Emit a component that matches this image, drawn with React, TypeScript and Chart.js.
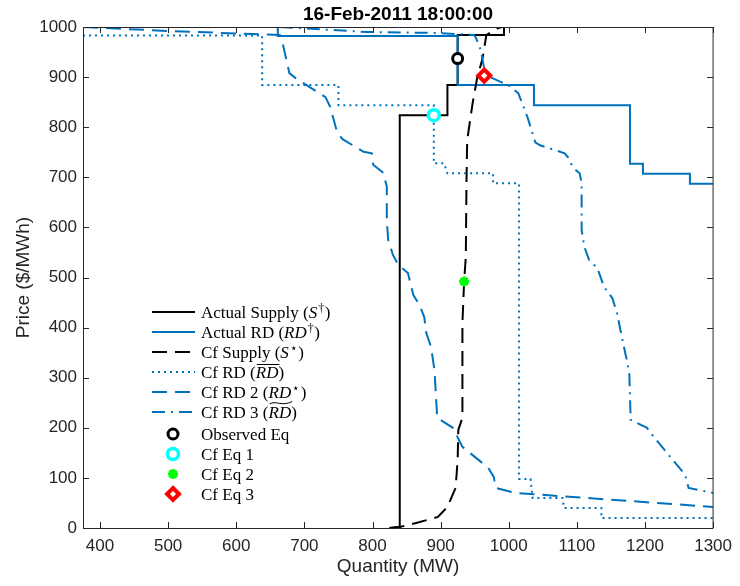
import React, { useEffect, useRef } from "react";
import { Chart, registerables } from "chart.js";

Chart.register(...registerables);

const TITLE = "16-Feb-2011 18:00:00";
const X_LABEL = "Quantity (MW)";
const Y_LABEL = "Price ($/MWh)";

const xTicks = [400, 500, 600, 700, 800, 900, 1000, 1100, 1200, 1300];
const yTicks = [0, 100, 200, 300, 400, 500, 600, 700, 800, 900, 1000];

// Actual Supply (S†)
const supplyQ = [825, 840, 840, 910, 910, 925, 925, 993, 993];
const supplyP = [0, 2, 824, 824, 884, 884, 984, 984, 1000];

// Actual RD (RD†)
const rdQ = [661, 661, 925, 925, 1037, 1037, 1178, 1178, 1197, 1197, 1266, 1266, 1300];
const rdP = [1000, 982, 982, 884, 884, 844, 844, 727, 727, 707, 707, 687, 687];

// Cf Supply (S*)
const cfSupplyQ = [825, 840, 864, 896, 910, 922, 925, 926, 932, 932, 932, 934.5, 937, 938, 939, 947, 954, 961, 966, 967, 985, 990];
const cfSupplyP = [0, 2, 10, 22, 42, 80, 136, 196, 220, 295, 409, 492, 541, 695, 774, 848, 901, 934, 974, 984, 998, 1000];

// Cf RD (overline RD)
const cfRdQ = [375, 638, 638, 750, 750, 890, 890, 905, 910, 977, 977, 1015, 1015, 1032, 1035, 1079, 1081, 1136, 1136, 1300];
const cfRdP = [983, 983, 884, 884, 844, 844, 728, 728, 708, 708, 688, 688, 98, 98, 60, 60, 40, 40, 20, 20];

// Cf RD 2 (RD*)
const cfRd2Q = [375, 502, 603, 664, 668, 678, 687, 731, 738, 748, 756, 787, 799, 801, 816, 821, 821, 823, 830, 838, 852, 860, 869, 876, 879, 886, 891, 895, 918, 932, 952, 970, 978, 981, 1010, 1300];
const cfRd2P = [1000, 992, 987, 984, 968, 908, 898, 860, 840, 790, 776, 751, 748, 725, 709, 681, 615, 575, 545, 525, 509, 465, 445, 421, 389, 361, 315, 220, 200, 162, 140, 120, 102, 80, 70, 42];

// Cf RD 3 (tilde RD)
const cfRd3Q = [664, 792, 898, 949, 952, 959, 963, 966, 976, 999, 1014, 1028, 1039, 1046, 1082, 1087, 1094, 1104, 1107, 1107, 1111, 1118, 1130, 1140, 1152, 1159, 1166, 1174, 1177, 1179, 1203, 1208, 1259, 1264, 1300];
const cfRd3P = [1000, 990, 988, 984, 978, 954, 924, 902, 898, 884, 868, 818, 770, 764, 748, 740, 720, 708, 689, 595, 561, 535, 519, 481, 459, 429, 381, 331, 309, 216, 200, 190, 106, 80, 70];

// Equilibrium points
const eqNames = ["Observed Eq", "Cf Eq 1", "Cf Eq 2", "Cf Eq 3"];
const eqQ = [925, 890, 934.5, 964];
const eqP = [937, 824, 492, 903];

const BLUE = "#0072BD";
const AXIS = "#262626";
const SANS = "'Liberation Sans', Arial, Helvetica, sans-serif";
const SERIF = "'Liberation Serif', 'Times New Roman', serif";

const DASH = [15, 8];
const DOT = [2, 4];
const DASHDOT = [13, 6, 2, 6];

function pts(q: number[], p: number[]) {
  return q.map((x, i) => ({ x, y: p[i] }));
}

type Seg = { t: string; it?: boolean; sup?: string; over?: boolean; tilde?: boolean };

const legendItems: { kind: "line" | "marker"; color: string; dash?: number[]; marker?: number; segs: Seg[] }[] = [
  { kind: "line", color: "#000", dash: [], segs: [{ t: "Actual Supply (" }, { t: "S", it: true, sup: "†" }, { t: ")" }] },
  { kind: "line", color: BLUE, dash: [], segs: [{ t: "Actual RD (" }, { t: "RD", it: true, sup: "†" }, { t: ")" }] },
  { kind: "line", color: "#000", dash: DASH, segs: [{ t: "Cf Supply (" }, { t: "S", it: true, sup: "⋆" }, { t: ")" }] },
  { kind: "line", color: BLUE, dash: DOT, segs: [{ t: "Cf RD (" }, { t: "RD", it: true, over: true }, { t: ")" }] },
  { kind: "line", color: BLUE, dash: DASH, segs: [{ t: "Cf RD 2 (" }, { t: "RD", it: true, sup: "⋆" }, { t: ")" }] },
  { kind: "line", color: BLUE, dash: DASHDOT, segs: [{ t: "Cf RD 3 (" }, { t: "RD", it: true, tilde: true }, { t: ")" }] },
  { kind: "marker", color: "#000", marker: 0, segs: [{ t: eqNames[0] }] },
  { kind: "marker", color: "#00FFFF", marker: 1, segs: [{ t: eqNames[1] }] },
  { kind: "marker", color: "#00FF00", marker: 2, segs: [{ t: eqNames[2] }] },
  { kind: "marker", color: "#FF0000", marker: 3, segs: [{ t: eqNames[3] }] },
];
const legendRowsY = [312, 332, 352, 372, 392, 412, 434, 454, 474, 494];

const markerStyles = [
  { pointStyle: "circle", radius: 5, borderWidth: 3, borderColor: "#000000", backgroundColor: "#ffffff" },
  { pointStyle: "circle", radius: 5.5, borderWidth: 3.5, borderColor: "#00FFFF", backgroundColor: "#ffffff" },
  { pointStyle: "star", radius: 5, borderWidth: 3, borderColor: "#00FF00", backgroundColor: "#00FF00" },
  { pointStyle: "rectRot", radius: 6, borderWidth: 4, borderColor: "#FF0000", backgroundColor: "#ffffff" },
];

function drawMarker(ctx: CanvasRenderingContext2D, m: any, x: number, y: number) {
  ctx.save();
  ctx.setLineDash([]);
  ctx.lineWidth = m.borderWidth;
  ctx.strokeStyle = m.borderColor;
  ctx.fillStyle = m.backgroundColor;
  const r = m.radius;
  ctx.beginPath();
  if (m.pointStyle === "circle") {
    ctx.arc(x, y, r, 0, Math.PI * 2);
    ctx.closePath();
    ctx.fill();
    ctx.stroke();
  } else if (m.pointStyle === "rectRot") {
    ctx.moveTo(x, y - r);
    ctx.lineTo(x + r, y);
    ctx.lineTo(x, y + r);
    ctx.lineTo(x - r, y);
    ctx.closePath();
    ctx.fill();
    ctx.stroke();
  } else {
    for (let k = 0; k < 4; k++) {
      const a = (k * Math.PI) / 4;
      ctx.moveTo(x - Math.cos(a) * r, y - Math.sin(a) * r);
      ctx.lineTo(x + Math.cos(a) * r, y + Math.sin(a) * r);
    }
    ctx.stroke();
  }
  ctx.restore();
}

function drawRich(ctx: CanvasRenderingContext2D, x: number, base: number, segs: Seg[]) {
  const size = 17;
  for (const s of segs) {
    ctx.font = `${s.it ? "italic " : ""}${size}px ${SERIF}`;
    ctx.fillText(s.t, x, base);
    const w = ctx.measureText(s.t).width;
    if (s.over) {
      ctx.beginPath();
      ctx.lineWidth = 1;
      ctx.moveTo(x + 1, base - 13.5);
      ctx.lineTo(x + w + 1, base - 13.5);
      ctx.stroke();
    }
    if (s.tilde) {
      ctx.beginPath();
      ctx.lineWidth = 1;
      const y0 = base - 15;
      ctx.moveTo(x + 1, y0 + 1);
      ctx.bezierCurveTo(x + w * 0.3, y0 - 3, x + w * 0.6, y0 + 4, x + w + 1, y0 - 1.5);
      ctx.stroke();
    }
    x += w;
    if (s.sup) {
      ctx.font = `${12}px ${SERIF}`;
      ctx.fillText(s.sup, x + 1, base - 6);
      x += ctx.measureText(s.sup).width + 1.5;
    }
  }
}

const customPlugin = {
  id: "matlabLook",
  afterDraw(chart: any) {
    const { ctx, chartArea: a, scales } = chart;
    const xs = scales.x;
    const ys = scales.y;
    ctx.save();
    // box
    ctx.strokeStyle = AXIS;
    ctx.lineWidth = 1;
    ctx.setLineDash([]);
    ctx.beginPath();
    ctx.moveTo(a.left + 0.5, a.top + 0.5);
    ctx.lineTo(a.right, a.top + 0.5);
    ctx.moveTo(a.left + 0.5, a.top);
    ctx.lineTo(a.left + 0.5, a.bottom + 0.5);
    ctx.lineTo(a.right, a.bottom + 0.5);
    ctx.moveTo(a.right, a.top);
    ctx.lineTo(a.right, a.bottom + 0.5);
    ctx.stroke();
    // ticks
    const tl = 6;
    ctx.beginPath();
    for (const v of xTicks) {
      const px = Math.round(xs.getPixelForValue(v)) + 0.5;
      ctx.moveTo(px, a.bottom);
      ctx.lineTo(px, a.bottom - tl);
      ctx.moveTo(px, a.top);
      ctx.lineTo(px, a.top + tl);
    }
    for (const v of yTicks) {
      const py = Math.round(ys.getPixelForValue(v)) + 0.5;
      ctx.moveTo(a.left, py);
      ctx.lineTo(a.left + tl, py);
      ctx.moveTo(a.right, py);
      ctx.lineTo(a.right - tl, py);
    }
    ctx.stroke();
    // title
    ctx.fillStyle = "#000";
    ctx.font = `bold 19px ${SANS}`;
    ctx.textAlign = "center";
    ctx.textBaseline = "alphabetic";
    ctx.fillText(TITLE, (a.left + a.right) / 2, 20);
    // legend
    ctx.textAlign = "left";
    legendItems.forEach((it, i) => {
      const y = legendRowsY[i];
      if (it.kind === "line") {
        ctx.save();
        ctx.strokeStyle = it.color;
        ctx.lineWidth = 2;
        ctx.setLineDash(it.dash || []);
        ctx.beginPath();
        ctx.moveTo(152, y);
        ctx.lineTo(195, y);
        ctx.stroke();
        ctx.restore();
      } else {
        drawMarker(ctx, markerStyles[it.marker as number], 173, y);
      }
      ctx.fillStyle = "#000";
      ctx.strokeStyle = "#000";
      drawRich(ctx, 201, y + 6, it.segs);
    });
    ctx.restore();
  },
};

export default function App() {
  const ref = useRef<HTMLCanvasElement | null>(null);
  useEffect(() => {
    document.body.style.margin = "0";
    const canvas = ref.current;
    if (!canvas) return;
    const lineDs = (label: string, q: number[], p: number[], color: string, dash: number[], order: number) => ({
      label,
      data: pts(q, p),
      showLine: true,
      borderColor: color,
      backgroundColor: color,
      borderWidth: 2,
      borderDash: dash,
      pointRadius: 0,
      pointHoverRadius: 0,
      fill: false,
      tension: 0,
      order,
    });
    const markerDs = eqNames.map((name, i) => ({
      label: name,
      data: [{ x: eqQ[i], y: eqP[i] }],
      showLine: false,
      pointStyle: markerStyles[i].pointStyle,
      pointRadius: markerStyles[i].radius,
      pointBorderWidth: markerStyles[i].borderWidth,
      pointBorderColor: markerStyles[i].borderColor,
      pointBackgroundColor: markerStyles[i].backgroundColor,
      order: 4 - i,
    }));
    const chart = new Chart(canvas, {
      type: "scatter",
      data: {
        datasets: [
          lineDs("Actual Supply", supplyQ, supplyP, "#000000", [], 20),
          lineDs("Actual RD", rdQ, rdP, BLUE, [], 19),
          lineDs("Cf Supply", cfSupplyQ, cfSupplyP, "#000000", DASH, 18),
          lineDs("Cf RD", cfRdQ, cfRdP, BLUE, DOT, 17),
          lineDs("Cf RD 2", cfRd2Q, cfRd2P, BLUE, DASH, 16),
          lineDs("Cf RD 3", cfRd3Q, cfRd3P, BLUE, DASHDOT, 15),
          ...markerDs,
        ] as any,
      },
      options: {
        responsive: false,
        animation: false,
        events: [],
        layout: { padding: { top: 27, right: 20, left: 0, bottom: 0 } },
        plugins: {
          legend: { display: false },
          tooltip: { enabled: false },
          title: { display: false },
        },
        scales: {
          x: {
            type: "linear",
            min: 375,
            max: 1300,
            afterFit: (s: any) => {
              s.height = 58;
            },
            afterBuildTicks: (s: any) => {
              s.ticks = xTicks.map((v) => ({ value: v }));
            },
            grid: { display: false, drawTicks: false },
            border: { display: false },
            ticks: {
              font: { family: SANS, size: 17 },
              color: AXIS,
              padding: 8,
              maxRotation: 0,
              autoSkip: false,
              callback: (v: any) => String(v),
            },
            title: {
              display: true,
              text: X_LABEL,
              font: { family: SANS, size: 19 },
              color: AXIS,
              padding: { top: 0, bottom: 8 },
            },
          },
          y: {
            type: "linear",
            min: 0,
            max: 1000,
            afterFit: (s: any) => {
              s.width = 83;
            },
            afterBuildTicks: (s: any) => {
              s.ticks = yTicks.map((v) => ({ value: v }));
            },
            grid: { display: false, drawTicks: false },
            border: { display: false },
            ticks: {
              font: { family: SANS, size: 17 },
              color: AXIS,
              padding: 6,
              autoSkip: false,
              callback: (v: any) => String(v),
            },
            title: {
              display: true,
              text: Y_LABEL,
              font: { family: SANS, size: 19 },
              color: AXIS,
              padding: { top: 12, bottom: 0 },
            },
          },
        },
      } as any,
      plugins: [customPlugin],
    });
    return () => chart.destroy();
  }, []);
  return (
    <div style={{ position: "absolute", left: 0, top: 0, width: 740, height: 586 }}>
      <canvas ref={ref} width={740} height={586} style={{ display: "block", width: 740, height: 586 }} />
    </div>
  );
}
